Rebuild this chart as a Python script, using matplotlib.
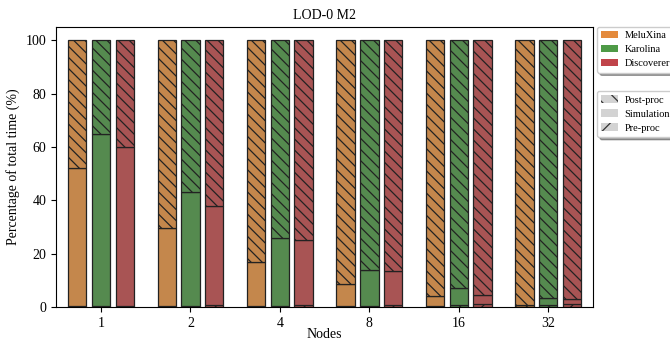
import numpy as np
import matplotlib.pyplot as plt
from matplotlib.patches import Patch

plt.rcParams['font.family'] = ['Liberation Serif', 'DejaVu Serif']
plt.rcParams['hatch.linewidth'] = 0.9

# Data: percentage of total time per phase
nodes = ['1', '2', '4', '8', '16', '32']
systems = ['MeluXina', 'Karolina', 'Discoverer']

pre_meluxina = [0.5, 0.5, 0.5, 0.5, 0.5, 0.6]
sim_meluxina = [51.5, 29.0, 16.2, 8.1, 3.6, 0.1]
pre_karolina = [0.4, 0.4, 0.4, 0.5, 0.6, 0.8]
sim_karolina = [64.6, 42.6, 25.3, 13.4, 6.4, 2.4]
pre_discoverer = [0.5, 0.6, 0.7, 0.8, 1.0, 1.2]
sim_discoverer = [59.5, 37.4, 24.3, 12.6, 3.5, 1.7]

pre = [pre_meluxina, pre_karolina, pre_discoverer]
sim = [sim_meluxina, sim_karolina, sim_discoverer]

bar_colors = ['#C4874C', '#558A4F', '#A85454']
legend_colors = ['#E48A3C', '#4E9A47', '#C0444A']

BS = chr(92)
hatch_post = BS * 3
hatch_pre = '/' * 3

fig, ax = plt.subplots(figsize=(6.7, 3.41), dpi=100)
fig.subplots_adjust(left=0.084, right=0.885, top=0.921, bottom=0.1)

x = np.arange(len(nodes))
width = 0.205
offsets = [-0.265, 0, 0.265]

for i in range(3):
    p = np.array(pre[i])
    s = np.array(sim[i])
    post = 100 - p - s
    xs = x + offsets[i]
    ax.bar(xs, p, width, color=bar_colors[i], edgecolor='#222222', linewidth=0.9, hatch=hatch_pre)
    ax.bar(xs, s, width, bottom=p, color=bar_colors[i], edgecolor='#222222', linewidth=0.9)
    ax.bar(xs, post, width, bottom=p + s, color=bar_colors[i], edgecolor='#222222', linewidth=0.9, hatch=hatch_post)

ax.set_xticks(x)
ax.set_xticklabels(nodes)
ax.set_xlim(-0.5, 5.5)
ax.set_ylim(0, 105)
ax.set_yticks([0, 20, 40, 60, 80, 100])
ax.set_xlabel('Nodes', fontsize=10, labelpad=-1.5)
ax.set_ylabel('Percentage of total time (%)', fontsize=10)
ax.set_title('LOD-0 M2', fontsize=10)

sys_handles = [Patch(facecolor=c, label=n) for c, n in zip(legend_colors, systems)]
leg1 = ax.legend(handles=sys_handles, loc='upper left', bbox_to_anchor=(1.008, 1.0),
                 fontsize=7.5, shadow=True, framealpha=1, borderaxespad=0,
                 handlelength=1.6, handletextpad=0.6, labelspacing=0.45)
ax.add_artist(leg1)

phase_handles = [
    Patch(facecolor='#d3d3d3', edgecolor='#333333', linewidth=0, hatch=BS * 2, label='Post-proc'),
    Patch(facecolor='#d3d3d3', edgecolor='#333333', linewidth=0, label='Simulation'),
    Patch(facecolor='#d3d3d3', edgecolor='#333333', linewidth=0, hatch='//', label='Pre-proc'),
]
ax.legend(handles=phase_handles, loc='upper left', bbox_to_anchor=(1.008, 0.77),
          fontsize=7.5, shadow=True, framealpha=1, borderaxespad=0,
          handlelength=1.6, handletextpad=0.6, labelspacing=0.45)

plt.savefig('out.png', dpi=100)
